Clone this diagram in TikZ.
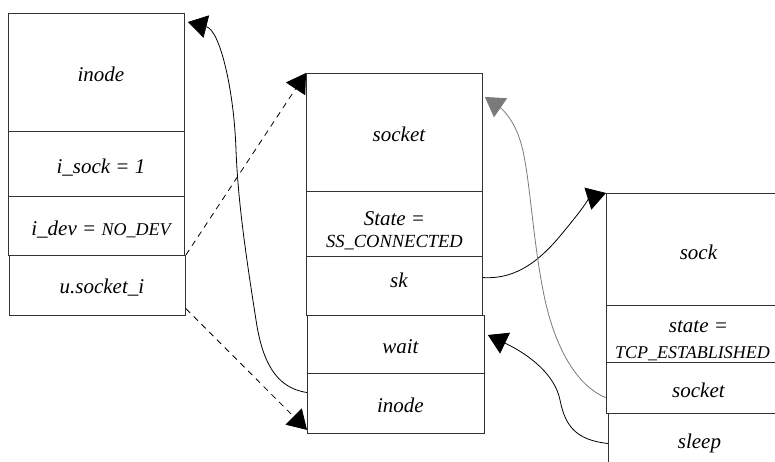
\documentclass[tikz,border=0pt]{standalone}
\usepackage{fontspec}
\setmainfont{Liberation Serif}
\usetikzlibrary{arrows.meta,calc}
\definecolor{boxline}{HTML}{333333}
\definecolor{grayline}{HTML}{7A7A7A}
\begin{document}
\begin{tikzpicture}[x=1pt,y=-1pt,
  cell/.style={draw=boxline, line width=0.9pt, anchor=north west, inner sep=0pt, align=center,
    text height=19pt, text depth=0pt, font=\itshape\fontsize{21}{24}\selectfont},
  nudge/.style={execute at begin node=\hspace*{9pt}},
  conn/.style={draw=black, line width=0.8pt, -{Triangle[length=19pt,width=23pt]}},
  dashconn/.style={conn, dash pattern=on 6pt off 5pt},
  grayconn/.style={conn, draw=grayline}]
\useasboundingbox (0,0) rectangle (775,462);
\clip (0,0) rectangle (775,462);
% left block
\node[cell, nudge, minimum width=176pt, minimum height=118pt] (linode) at (8,13) {inode};
\node[cell, nudge, minimum width=176pt, minimum height=65pt] (isock) at (8,131) {i\_sock = 1};
\node[cell, nudge, minimum width=176pt, minimum height=59pt] (idev) at (8,196) {i\_dev = {\fontsize{18}{20}\selectfont NO\_DEV}};
\node[cell, nudge, minimum width=176pt, minimum height=60pt, text height=17pt] (usock) at (9,255) {u.socket\_i};
% middle block
\node[cell, nudge, minimum width=176pt, minimum height=118pt] (msocket) at (306,73) {socket};
\node[cell, minimum width=176pt, minimum height=65pt, text height=47pt] (mstate) at (306,191) {State =\\[-2pt]{\fontsize{18.5}{20}\selectfont SS\_CONNECTED}};
\node[cell, nudge, minimum width=176pt, minimum height=59pt, text height=3pt] (msk) at (306,256) {sk};
\node[cell, nudge, minimum width=177pt, minimum height=58pt] (mwait) at (307,315) {wait};
\node[cell, nudge, minimum width=177pt, minimum height=60pt] (minode) at (307,373) {inode};
% right block
\node[cell, minimum width=184pt, minimum height=112pt, text height=21pt] (sock) at (606,193) {sock};
\node[cell, minimum width=184pt, minimum height=57pt, text height=49pt] (rstate) at (606,305) {state =\\[2pt]\hspace*{-12pt}{\fontsize{18}{20}\selectfont TCP\_ESTABLISHED}};
\node[cell, minimum width=184pt, minimum height=51pt] (rsocket) at (606,362) {socket};
\node[cell, minimum width=182pt, minimum height=64pt, text height=6pt] (sleep) at (608,413) {sleep};
% connectors
\draw[conn] ($(minode.north west)!0.32!(minode.south west)$) .. controls (275,388) and (262,360) .. (256,320)
  .. controls (245,250) and (238,200) .. (236,150) .. controls (234,90) and (220,30) .. ($(linode.north east)+(3,9)$);
\draw[dashconn] (usock.north east) -- (msocket.north west);
\draw[dashconn] ($(usock.north east)!0.88!(usock.south east)$) -- ($(minode.south west)+(0,-4)$);
\draw[conn] ($(msk.north east)!0.36!(msk.south east)$) .. controls (520,280) and (545,255) .. (565,230)
  .. controls (580,212) and (590,198) .. (sock.north west);
\draw[grayconn] ($(rsocket.north west)!0.69!(rsocket.south west)$) .. controls (575,385) and (555,345) .. (545,300)
  .. controls (532,240) and (530,170) .. (520,140) .. controls (512,115) and (498,106) .. ($(msocket.north east)+(2,24)$);
\draw[conn] ($(sleep.north west)!0.47!(sleep.south west)$) .. controls (575,440) and (565,425) .. (560,400)
  .. controls (555,375) and (530,355) .. ($(mwait.north east)+(3,20)$);
\end{tikzpicture}
\end{document}
